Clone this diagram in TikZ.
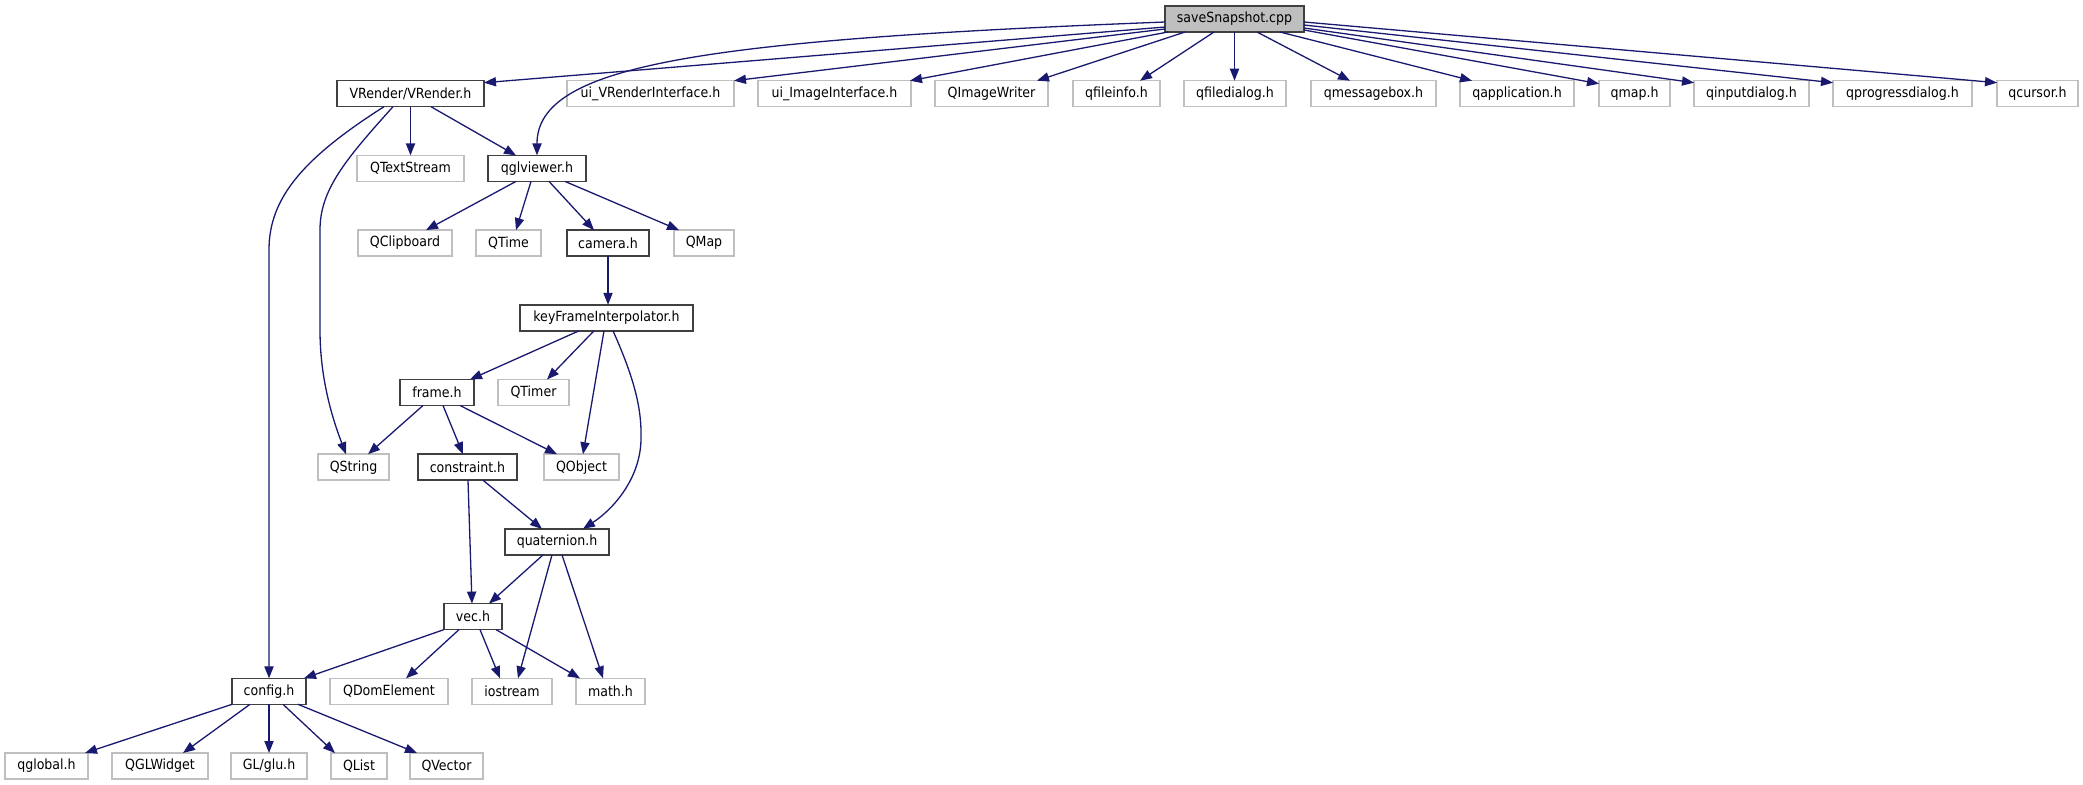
\documentclass[tikz,border=0pt]{standalone}
\usepackage{fontspec}
\setmainfont{DejaVu Sans Condensed}
\usetikzlibrary{arrows.meta,calc}
\definecolor{edgeblue}{HTML}{191970}
\definecolor{extgray}{HTML}{BFBFBF}
\definecolor{docgray}{HTML}{404040}
\begin{document}
\begin{tikzpicture}[x=0.5pt,y=-0.5pt,
  nbox/.style={rectangle,inner sep=0pt,outer sep=0pt,minimum height=13pt,line width=0.75pt,font=\fontsize{7}{8}\selectfont,fill=white},
  doc/.style={nbox,draw=docgray},
  ext/.style={nbox,draw=extgray},
  root/.style={nbox,draw=docgray,fill=extgray},
  conn/.style={draw=edgeblue,line width=0.65pt,-{Triangle[length=6pt,width=4.6pt]}}]
\useasboundingbox (0,0) rectangle (2083,784);
% row 0
\node[root,minimum width=69.5pt] (save) at (1234.5,19) {saveSnapshot.cpp};
% row 1
\node[doc,minimum width=73.5pt] (VRender) at (410.5,93.7) {VRender/VRender.h};
\node[ext,minimum width=83.5pt] (uiVR) at (650.5,93.7) {ui\_VRenderInterface.h};
\node[ext,minimum width=76.5pt] (uiII) at (834.5,93.7) {ui\_ImageInterface.h};
\node[ext,minimum width=56.5pt] (QIW) at (991.5,93.7) {QImageWriter};
\node[ext,minimum width=43.5pt] (qfileinfo) at (1116.5,93.7) {qfileinfo.h};
\node[ext,minimum width=51pt] (qfiledialog) at (1235,93.7) {qfiledialog.h};
\node[ext,minimum width=62.5pt] (qmessagebox) at (1373.5,93.7) {qmessagebox.h};
\node[ext,minimum width=57pt] (qapplication) at (1517,93.7) {qapplication.h};
\node[ext,minimum width=35.5pt] (qmaph) at (1634.5,93.7) {qmap.h};
\node[ext,minimum width=57.5pt] (qinput) at (1751.5,93.7) {qinputdialog.h};
\node[ext,minimum width=69.5pt] (qprog) at (1902.5,93.7) {qprogressdialog.h};
\node[ext,minimum width=40.5pt] (qcursor) at (2037.5,93.7) {qcursor.h};
% row 2
\node[ext,minimum width=53.5pt] (QTextStream) at (410.5,168.4) {QTextStream};
\node[doc,minimum width=49pt] (qglviewer) at (537,168.4) {qglviewer.h};
% row 3
\node[ext,minimum width=47pt] (QClipboard) at (405,243.1) {QClipboard};
\node[ext,minimum width=32.5pt] (QTime) at (508.5,243.1) {QTime};
\node[doc,minimum width=41pt] (camera) at (608,243.1) {camera.h};
\node[ext,minimum width=30pt] (QMap) at (704,243.1) {QMap};
% row 4
\node[doc,minimum width=86.5pt] (keyFrame) at (606.5,317.8) {keyFrameInterpolator.h};
% row 5
\node[doc,minimum width=37pt] (frame) at (437,392.5) {frame.h};
\node[ext,minimum width=35.5pt] (QTimer) at (533.5,392.5) {QTimer};
% row 6
\node[ext,minimum width=35.5pt] (QString) at (353.5,467.2) {QString};
\node[doc,minimum width=49.5pt] (constraint) at (467.5,467.2) {constraint.h};
\node[ext,minimum width=37.5pt] (QObject) at (581.5,467.2) {QObject};
% row 7
\node[doc,minimum width=52pt] (quaternion) at (557,541.9) {quaternion.h};
% row 8
\node[doc,minimum width=29pt] (vec) at (473,616.6) {vec.h};
% row 9
\node[doc,minimum width=37pt] (config) at (269,691.3) {config.h};
\node[ext,minimum width=59pt] (QDomElement) at (389,691.3) {QDomElement};
\node[ext,minimum width=40pt] (iostream) at (512,691.3) {iostream};
\node[ext,minimum width=34.5pt] (math) at (610.5,691.3) {math.h};
% row 10
\node[ext,minimum width=41.5pt] (qglobal) at (46.5,766) {qglobal.h};
\node[ext,minimum width=48pt] (QGLWidget) at (160,766) {QGLWidget};
\node[ext,minimum width=38pt] (GLglu) at (269,766) {GL/glu.h};
\node[ext,minimum width=28pt] (QList) at (359,766) {QList};
\node[ext,minimum width=36.5pt] (QVector) at (446.5,766) {QVector};

% edges from saveSnapshot.cpp
\draw[conn] ($(save.west)+(0,3)$) .. controls (700,40) and (537,65) .. (qglviewer.north);
\draw[conn] ($(save.west)+(0,8)$) -- ($(VRender.north east)+(0,2)$);
\draw[conn] ($(save.west)+(0,10)$) -- (uiVR.north east);
\draw[conn] ($(save.south west)+(3,0)$) -- ($(uiII.north east)+(-1,0)$);
\draw[conn] ($(save.south)+(-49.5,0)$) -- ($(QIW.north)+(45.5,0)$);
\draw[conn] ($(save.south)+(-20.5,0)$) -- ($(qfileinfo.north)+(23.5,0)$);
\draw[conn] (save.south) -- (save.south |- qfiledialog.north);
\draw[conn] ($(save.south)+(22.5,0)$) -- ($(qmessagebox.north)+(-23.5,0)$);
\draw[conn] ($(save.south)+(45.5,0)$) -- ($(qapplication.north)+(-45,0)$);
\draw[conn] ($(save.east)+(0,11)$) -- ($(qmaph.north west)+(0,3)$);
\draw[conn] ($(save.east)+(0,9)$) -- ($(qinput.north west)+(0,2)$);
\draw[conn] ($(save.east)+(0,6)$) -- ($(qprog.north west)+(0,2)$);
\draw[conn] ($(save.east)+(0,3)$) -- ($(qcursor.north west)+(0,2)$);

% VRender
\draw[conn] ($(VRender.south)+(-26.5,0)$) .. controls (300,160) and (269,200) .. (269,250) -- (config.north);
\draw[conn] ($(VRender.south)+(-17.5,0)$) .. controls (345,160) and (320,190) .. (320,230) -- (320,330) .. controls (320,380) and (333,420) .. ($(QString.north)+(-7.5,0)$);
\draw[conn] (VRender.south) -- (QTextStream.north);
\draw[conn] ($(VRender.south)+(20.5,0)$) -- ($(qglviewer.north)+(-21,0)$);

% qglviewer
\draw[conn] ($(qglviewer.south)+(-21,0)$) -- ($(QClipboard.north)+(21,0)$);
\draw[conn] ($(qglviewer.south)+(-6,0)$) -- ($(QTime.north)+(7.5,0)$);
\draw[conn] ($(qglviewer.south)+(12,0)$) -- ($(camera.north)+(-14,0)$);
\draw[conn] ($(qglviewer.south)+(28,0)$) -- ($(QMap.north)+(-25,0)$);

% camera
\draw[conn] (camera.south) -- (camera.south |- keyFrame.north);

% keyFrameInterpolator
\draw[conn] ($(keyFrame.south)+(-27.5,0)$) -- ($(frame.north)+(33,0)$);
\draw[conn] ($(keyFrame.south)+(-12.5,0)$) -- ($(QTimer.north)+(13.5,0)$);
\draw[conn] ($(keyFrame.south)+(-2.5,0)$) -- ($(QObject.north)+(1.5,0)$);
\draw[conn] ($(keyFrame.south)+(6.5,0)$) .. controls (635,380) and (642,410) .. (641,440) .. controls (640,480) and (612,510) .. ($(quaternion.north)+(26,0)$);

% frame
\draw[conn] ($(frame.south)+(-14,0)$) -- ($(QString.north)+(14.5,0)$);
\draw[conn] ($(frame.south)+(6,0)$) -- ($(constraint.north)+(-4.5,0)$);
\draw[conn] ($(frame.south)+(23,0)$) -- ($(QObject.north)+(-24.5,0)$);

% constraint
\draw[conn] ($(constraint.south)+(15.5,0)$) -- ($(quaternion.north)+(-15,0)$);
\draw[conn] ($(constraint.south)+(0.5,0)$) -- ($(vec.north)+(-1,0)$);

% quaternion
\draw[conn] ($(quaternion.south)+(-14,0)$) -- ($(vec.north)+(16,0)$);
\draw[conn] ($(quaternion.south)+(-5,0)$) -- ($(iostream.north)+(6,0)$);
\draw[conn] ($(quaternion.south)+(5,0)$) -- ($(math.north)+(-7.5,0)$);

% vec
\draw[conn] (vec.south west) -- ($(config.north east)+(-2,0)$);
\draw[conn] ($(vec.south)+(-14,0)$) -- ($(QDomElement.north)+(17,0)$);
\draw[conn] ($(vec.south)+(7,0)$) -- ($(iostream.north)+(-12,0)$);
\draw[conn] ($(vec.south)+(23,0)$) -- ($(math.north)+(-30.5,0)$);

% config
\draw[conn] (config.south west) -- ($(qglobal.north)+(38.5,0)$);
\draw[conn] ($(config.south)+(-19,0)$) -- ($(QGLWidget.north)+(23,0)$);
\draw[conn] (config.south) -- (GLglu.north);
\draw[conn] ($(config.south)+(14,0)$) -- ($(QList.north)+(-24,0)$);
\draw[conn] ($(config.south)+(29,0)$) -- ($(QVector.north)+(-29.5,0)$);
\end{tikzpicture}
\end{document}
